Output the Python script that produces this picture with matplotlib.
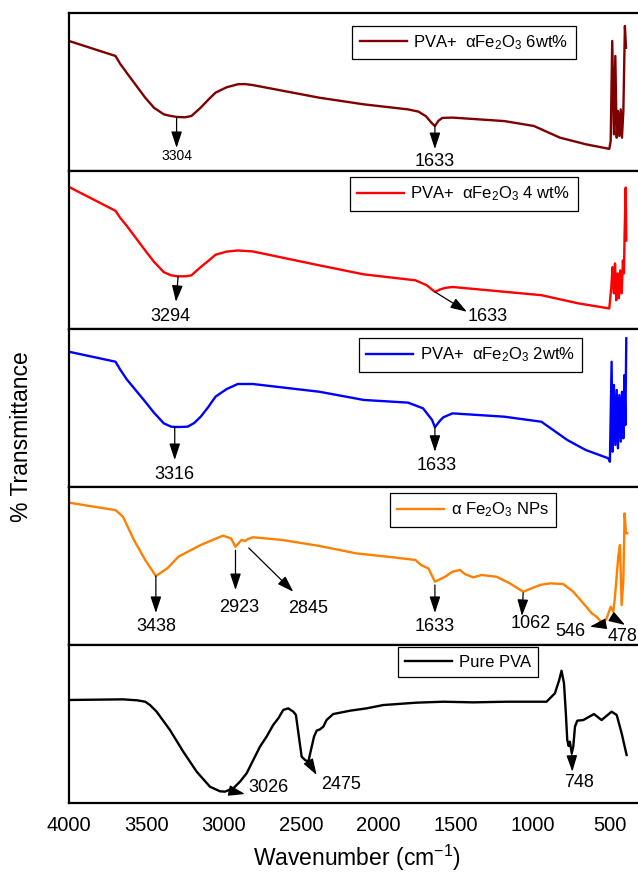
import matplotlib
matplotlib.use("Agg")
import matplotlib.pyplot as plt

plt.rcParams["font.family"] = ["Liberation Sans", "DejaVu Sans"]
plt.rcParams["mathtext.fontset"] = "custom"
plt.rcParams["mathtext.rm"] = "Liberation Sans"
plt.rcParams["mathtext.it"] = "Liberation Sans:italic"

# FTIR spectra, wavenumber (cm-1) vs transmittance (a.u.), one panel each
wn_6wt = [4000, 3699, 3670, 3627, 3507, 3450, 3387, 3360, 3304, 3250, 3208, 3148, 3100,
          3052, 2980, 2908, 2860, 2812, 2381, 2094, 1807, 1740, 1690, 1655, 1633, 1610,
          1585, 1519, 1184, 993, 824, 656, 505, 496, 486, 475, 466, 457, 449, 440, 431,
          423, 414, 404, 397]
t_6wt = [82.3, 72.8, 68.0, 62.2, 46.4, 40.0, 35.9, 35.2, 34.2, 34.0, 34.8, 40.1, 45.0,
         49.6, 53.0, 54.9, 55.0, 54.4, 46.4, 42.2, 39.0, 37.6, 34.6, 30.5, 28.5, 31.8,
         33.6, 33.8, 31.6, 28.5, 21.1, 16.9, 14.0, 19.0, 82.3, 23.2, 72.8, 21.1, 38.0,
         22.2, 39.0, 21.1, 38.0, 91.8, 78.0]

wn_4wt = [4000, 3699, 3670, 3627, 3507, 3450, 3387, 3340, 3294, 3240, 3208, 3148, 3100,
          3052, 2980, 2908, 2812, 2381, 2094, 1758, 1686, 1633, 1600, 1567, 1519, 944,
          704, 505, 492, 484, 475, 468, 460, 451, 443, 434, 425, 417, 410, 406, 399, 395]
t_4wt = [89.9, 74.8, 70.5, 65.4, 49.7, 42.5, 36.0, 34.0, 33.3, 33.4, 34.0, 39.2, 43.0,
         47.0, 49.0, 49.7, 49.1, 40.3, 34.6, 30.8, 27.7, 23.5, 25.0, 26.0, 26.6, 21.4,
         16.2, 13.0, 26.6, 39.2, 22.6, 41.5, 18.2, 35.2, 19.5, 37.1, 22.6, 43.4, 35.2,
         60.4, 89.5, 56.0]

wn_2wt = [4000, 3699, 3670, 3627, 3507, 3450, 3387, 3340, 3316, 3280, 3232, 3190, 3148,
          3100, 3052, 2980, 2908, 2812, 2381, 2094, 1807, 1710, 1651, 1633, 1600, 1579,
          1519, 1184, 944, 776, 657, 512, 501, 490, 484, 475, 466, 457, 449, 440, 431,
          423, 414, 407, 401, 395]
t_2wt = [85.6, 79.3, 74.5, 68.2, 54.0, 47.0, 40.3, 38.2, 38.0, 38.0, 38.2, 40.5, 44.5,
         50.5, 57.2, 62.0, 65.2, 65.2, 60.3, 55.1, 53.4, 49.8, 42.4, 37.8, 42.0, 44.1,
         46.6, 44.5, 41.3, 29.7, 23.4, 18.2, 16.0, 79.3, 22.3, 64.6, 26.6, 61.4, 24.5,
         58.2, 28.7, 60.3, 30.8, 70.9, 39.2, 94.1]

wn_nps = [4000, 3868, 3699, 3651, 3580, 3507, 3438, 3364, 3292, 3148, 3004, 2952, 2923,
          2884, 2860, 2845, 2812, 2621, 2381, 2142, 1903, 1758, 1723, 1675, 1633, 1567,
          1519, 1471, 1439, 1385, 1331, 1234, 1148, 1062, 1007, 953, 889, 803, 738, 673,
          619, 587, 546, 522, 496, 479, 468, 447, 436, 425, 414, 406, 397, 389]
t_nps = [90.1, 88.0, 85.4, 81.2, 66.5, 53.8, 43.7, 48.5, 55.9, 63.3, 69.2, 67.5, 62.2,
         66.5, 65.8, 66.9, 68.2, 66.5, 62.7, 58.0, 55.5, 53.8, 50.6, 48.5, 40.1, 43.2,
         46.4, 47.5, 44.9, 42.8, 44.3, 43.2, 39.0, 33.7, 35.9, 38.0, 39.0, 38.6, 33.7, 26.4,
         20.1, 17.9, 13.3, 16.9, 24.2, 21.1, 30.6, 55.9, 63.3, 25.3, 41.1, 83.3, 70.7, 70.7]

wn_pva = [4000, 3651, 3560, 3507, 3476, 3433, 3347, 3261, 3174, 3088, 3023, 2991, 2937,
          2894, 2851, 2808, 2765, 2722, 2679, 2646, 2614, 2582, 2549, 2532, 2510, 2495,
          2473, 2452, 2430, 2415, 2398, 2377, 2355, 2334, 2291, 2183, 2075, 1967, 1752,
          1579, 1385, 1169, 911, 857, 829, 814, 798, 786, 777, 768, 760, 748, 738, 727,
          712, 673, 604, 555, 490, 457, 425, 393]
t_pva = [65.2, 65.6, 65.0, 64.1, 62.0, 57.8, 46.2, 32.5, 19.8, 10.3, 7.4, 7.2, 9.3,
         13.5, 18.8, 27.2, 35.6, 42.0, 49.4, 53.6, 58.9, 59.9, 57.8, 55.7, 39.9, 29.3,
         27.2, 26.1, 35.6, 42.0, 45.8, 46.6, 48.3, 52.5, 56.3, 58.4, 59.9, 62.0, 63.5,
         64.1, 63.7, 64.1, 64.1, 69.4, 77.8, 83.7, 75.8, 56.8, 39.9, 36.1, 38.8, 31.5,
         35.6, 48.3, 52.1, 52.5, 56.3, 52.5, 57.8, 55.7, 44.1, 30.4]

labels = [r"PVA+  αFe$_2$O$_3$ 6wt%", r"PVA+  αFe$_2$O$_3$ 4 wt%",
          r"PVA+  αFe$_2$O$_3$ 2wt%", r"α Fe$_2$O$_3$ NPs", "Pure PVA"]
colors = ["#7f0000", "#ff0000", "#0000ff", "#ff8000", "#000000"]
xticks = [4000, 3500, 3000, 2500, 2000, 1500, 1000, 500]

# peak marks: (text, arrow tail, arrow head, text position, ha, fontsize)
peaks_6wt = [("3304", (3304, 34.2), (3304, 14.6), (3304, 9.5), "center", 10),
             ("1633", (1633, 28.5), (1633, 13.9), (1633, 6.3), "center", 13)]
peaks_4wt = [("3294", (3294, 33.3), (3308, 17.2), (3344, 8.2), "center", 13),
             ("1633", (1633, 23.5), (1426, 10.9), (1291, 7.7), "center", 13)]
peaks_2wt = [("3316", (3316, 38.0), (3316, 17.1), (3316, 8.2), "center", 13),
             ("1633", (1633, 37.8), (1633, 22.3), (1620, 13.9), "center", 13)]
peaks_nps = [("3438", (3438, 43.7), (3438, 20.3), (3438, 11.4), "center", 13),
             ("2923", (2923, 60.0), (2923, 34.8), (2900, 23.6), "center", 13),
             ("2845", (2837, 61.4), (2549, 33.7), (2454, 22.8), "center", 13),
             ("1633", (1633, 38.0), (1633, 20.3), (1633, 11.4), "center", 13),
             ("1062", (1062, 33.0), (1070, 18.4), (1014, 13.3), "center", 13),
             ("546", (533, 13.3), (630, 11.6), (755, 8.4), "center", 13),
             ("478", (490, 17.9), (403, 12.7), (514, 5.3), "left", 13)]
peaks_pva = [("3026", (2970, 8.0), (2862, 5.7), (2842, 9.5), "left", 13),
             ("2475", (2446, 25.5), (2398, 17.7), (2366, 11.4), "left", 13),
             ("748", (748, 31.5), (744, 19.8), (699, 12.8), "center", 13)]

series = [(wn_6wt, t_6wt, peaks_6wt, (0.492, 0.92)),
          (wn_4wt, t_4wt, peaks_4wt, (0.487, 0.962)),
          (wn_2wt, t_2wt, peaks_2wt, (0.503, 0.943)),
          (wn_nps, t_nps, peaks_nps, (0.557, 0.962)),
          (wn_pva, t_pva, peaks_pva, (0.571, 0.987))]

W, H = 638, 880
fig = plt.figure(figsize=(W / 100, H / 100), dpi=100)

left, right = 69, 645
top, ph = 13, 158
axes = []
for i, (wn, t, peaks, lpos) in enumerate(series):
    y0 = H - (top + ph * (i + 1))
    ax = fig.add_axes([left / W, y0 / H, (right - left) / W, ph / H])
    ax.plot(wn, t, color=colors[i], lw=1.7, label=labels[i])
    ax.set_xlim(4000, 274)
    ax.set_ylim(0, 100)
    ax.set_yticks([])
    ax.set_xticks(xticks)
    ax.tick_params(axis="x", length=0, pad=9, labelsize=14.5)
    if i < 4:
        ax.tick_params(axis="x", labelbottom=False)
    for s in ax.spines.values():
        s.set_linewidth(1.6)
    for txt, tail, head, tpos, ha, fs in peaks:
        ax.annotate("", xy=head, xytext=tail,
                    arrowprops=dict(arrowstyle="-|>,head_length=1.0,head_width=0.33",
                                    color="black", lw=0.9, shrinkA=0, shrinkB=0))
        ax.text(tpos[0], tpos[1], txt, ha=ha, va="center", fontsize=fs)
    leg = ax.legend(loc="upper left", bbox_to_anchor=lpos, borderaxespad=0,
                    fontsize=12, fancybox=False, framealpha=1, handlelength=2.8,
                    handletextpad=0.4, borderpad=0.45)
    leg.get_frame().set_edgecolor("black")
    leg.get_frame().set_linewidth(0.9)
    axes.append(ax)

axes[-1].set_xlabel("Wavenumber (cm$^{-1}$)", fontsize=16.5, labelpad=6)
fig.text(22 / W, 1 - 437 / H, "% Transmittance", rotation=90, fontsize=16.5,
         ha="center", va="center")

fig.savefig("out.png", dpi=100)
